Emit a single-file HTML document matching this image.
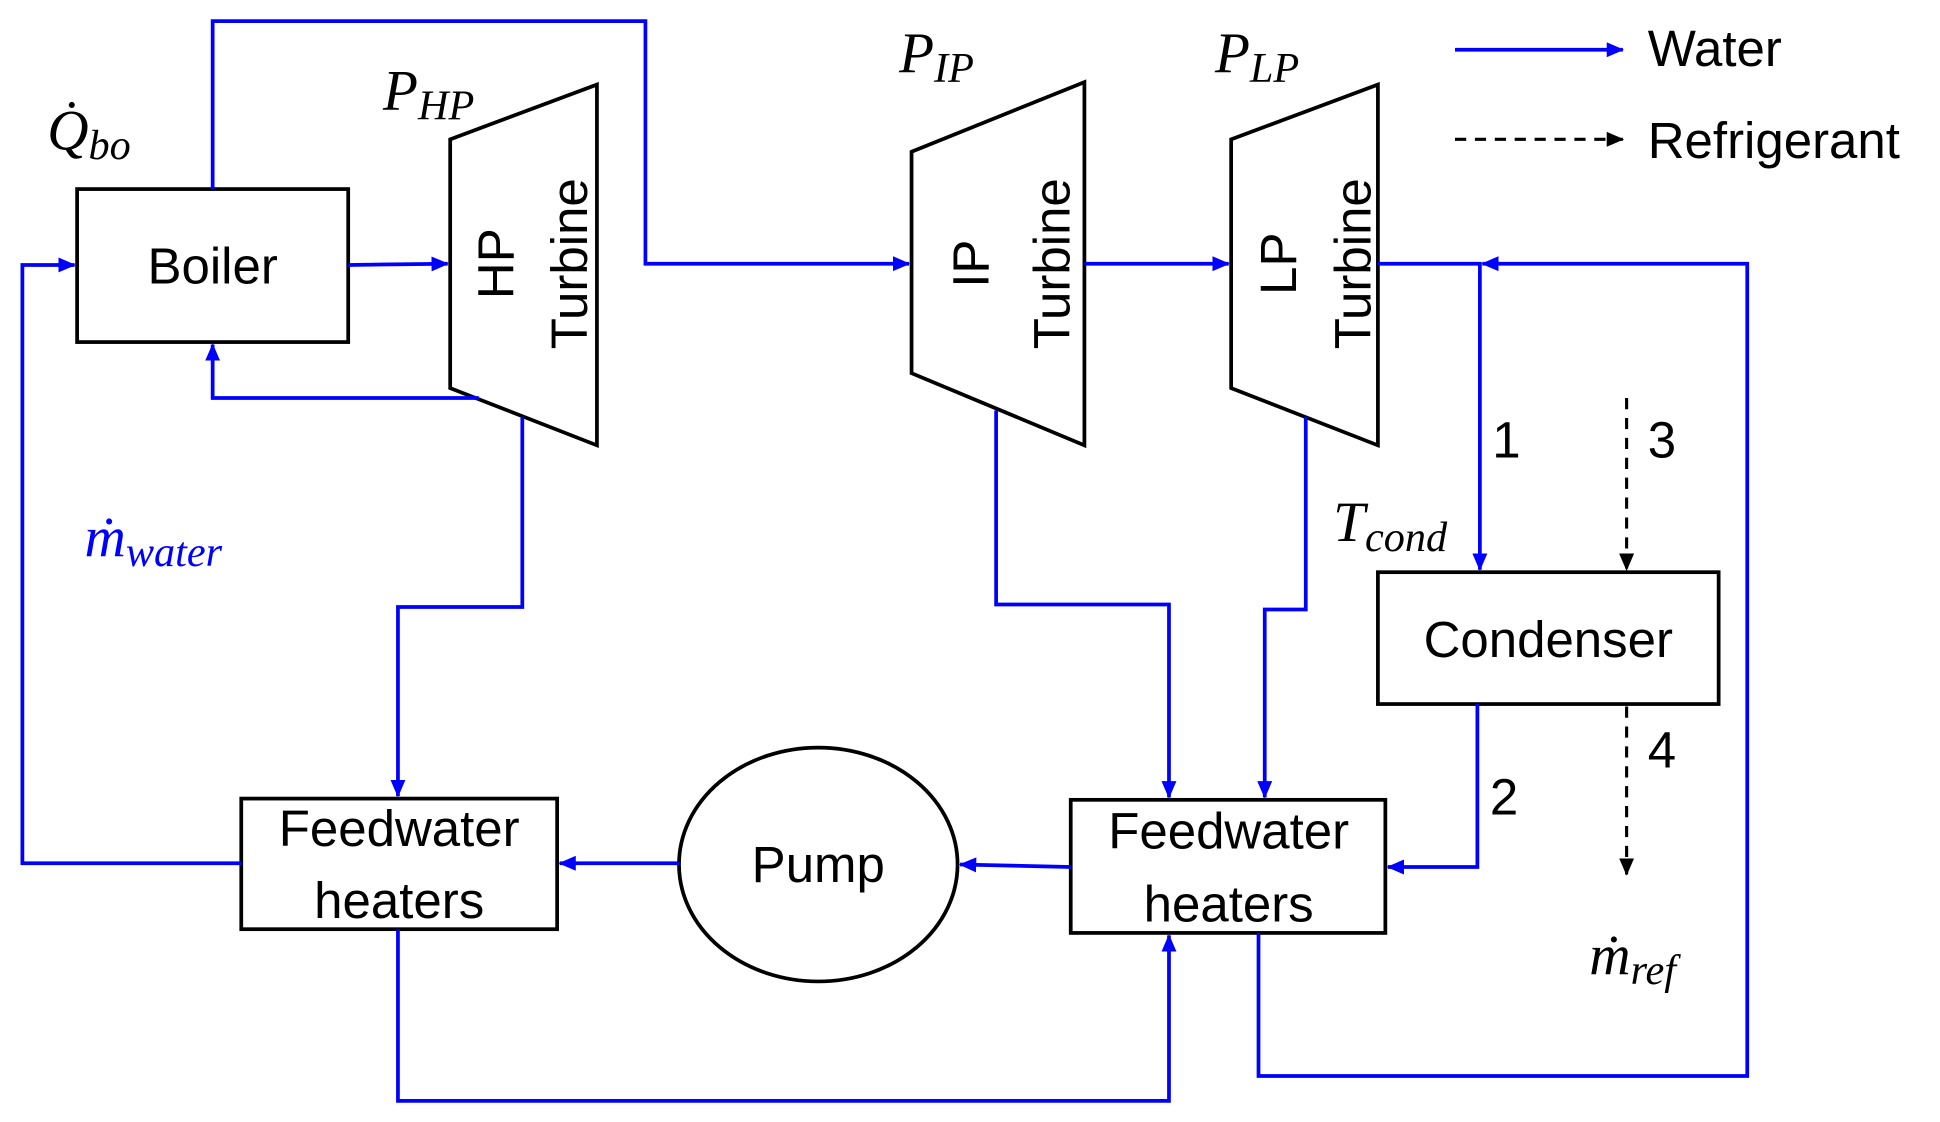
<!DOCTYPE html>
<html><head><meta charset="utf-8"><style>
html,body{margin:0;padding:0;background:#fff;}
svg{display:block;}
.s{font-family:"Liberation Sans",sans-serif;font-size:41px;fill:#000;}
.m{font-family:"Liberation Serif",serif;font-style:italic;font-size:46px;fill:#000;}
.sub{font-size:34px;}
</style></head><body>
<svg width="1940" height="1122" viewBox="0 0 1560 902" preserveAspectRatio="none" xmlns="http://www.w3.org/2000/svg">
<defs>
<marker id="ab" markerWidth="14" markerHeight="12" refX="13" refY="6" orient="auto" markerUnits="userSpaceOnUse" viewBox="0 0 14 12"><path d="M0,0 L14,6 L0,12 z" fill="#0000ff"/></marker>
<marker id="ak" markerWidth="14" markerHeight="12" refX="13" refY="6" orient="auto" markerUnits="userSpaceOnUse" viewBox="0 0 14 12"><path d="M0,0 L14,6 L0,12 z" fill="#000"/></marker>
</defs>
<rect width="1560" height="902" fill="#fff"/>
<g fill="none" stroke="#000" stroke-width="3">
<rect x="62" y="152" width="218" height="123"/>
<polygon points="362,112 480,68 480,358 362,312"/>
<polygon points="733,122 872,66 872,358 733,300"/>
<polygon points="990,112 1108,68 1108,358 990,312"/>
<rect x="1108" y="460" width="274" height="106"/>
<rect x="194" y="642" width="254" height="105"/>
<rect x="861" y="643" width="253" height="107"/>
<ellipse cx="658" cy="695" rx="112" ry="94"/>
</g>
<g fill="none" stroke="#0000ff" stroke-width="3" marker-end="url(#ab)">
<polyline points="171,152 171,17 519,17 519,212 731,212"/>
<polyline points="280,213 360,212"/>
<polyline points="385,320 171,320 171,277"/>
<polyline points="420,335 420,488 320,488 320,640"/>
<polyline points="872,212 988,212"/>
<polyline points="801,330 801,486 940,486 940,641"/>
<polyline points="1050,335 1050,490 1017,490 1017,641"/>
<polyline points="1108,212 1190,212 1190,458"/>
<polyline points="1012,750 1012,865 1405,865 1405,212 1192,212"/>
<polyline points="1188,566 1188,697 1116,697"/>
<polyline points="861,697 772,695"/>
<polyline points="546,694 450,694"/>
<polyline points="194,694 18,694 18,213 60,213"/>
<polyline points="320,747 320,885 940,885 940,752"/>
<polyline points="1170,40 1305,40"/>
</g>
<g fill="none" stroke="#000" stroke-width="2.5" stroke-dasharray="9,7" marker-end="url(#ak)">
<polyline points="1308,320 1308,458"/>
<polyline points="1308,568 1308,703"/>
<polyline points="1170,112 1305,112"/>
</g>
<text class="s" x="171" y="228" text-anchor="middle">Boiler</text>
<text class="s" transform="translate(413,212) rotate(-90)" text-anchor="middle">HP</text>
<text class="s" transform="translate(472,212) rotate(-90)" text-anchor="middle">Turbine</text>
<text class="s" transform="translate(795,212) rotate(-90)" text-anchor="middle">IP</text>
<text class="s" transform="translate(860,212) rotate(-90)" text-anchor="middle">Turbine</text>
<text class="s" transform="translate(1042,212) rotate(-90)" text-anchor="middle">LP</text>
<text class="s" transform="translate(1102,212) rotate(-90)" text-anchor="middle">Turbine</text>
<text class="s" x="1245" y="528" text-anchor="middle">Condenser</text>
<text class="s" x="321" y="680" text-anchor="middle">Feedwater</text>
<text class="s" x="321" y="738" text-anchor="middle">heaters</text>
<text class="s" x="988" y="682" text-anchor="middle">Feedwater</text>
<text class="s" x="988" y="741" text-anchor="middle">heaters</text>
<text class="s" x="658" y="709" text-anchor="middle">Pump</text>
<text class="s" x="1325" y="53">Water</text>
<text class="s" x="1325" y="127">Refrigerant</text>
<text class="s" x="1200" y="368">1</text>
<text class="s" x="1325" y="368">3</text>
<text class="s" x="1198" y="655">2</text>
<text class="s" x="1325" y="617">4</text>
<text class="m" x="38" y="120">Q̇<tspan class="sub" dy="8">bo</tspan></text>
<text class="m" x="308" y="88">P<tspan class="sub" dy="8">HP</tspan></text>
<text class="m" x="723" y="58">P<tspan class="sub" dy="8">IP</tspan></text>
<text class="m" x="977" y="58">P<tspan class="sub" dy="8">LP</tspan></text>
<text class="m" x="68" y="447" style="fill:#0000ff">ṁ<tspan class="sub" dy="8">water</tspan></text>
<text class="m" x="1072" y="435">T<tspan class="sub" dy="8">cond</tspan></text>
<text class="m" x="1278" y="783">ṁ<tspan class="sub" dy="8">ref</tspan></text>
</svg>
</body></html>
